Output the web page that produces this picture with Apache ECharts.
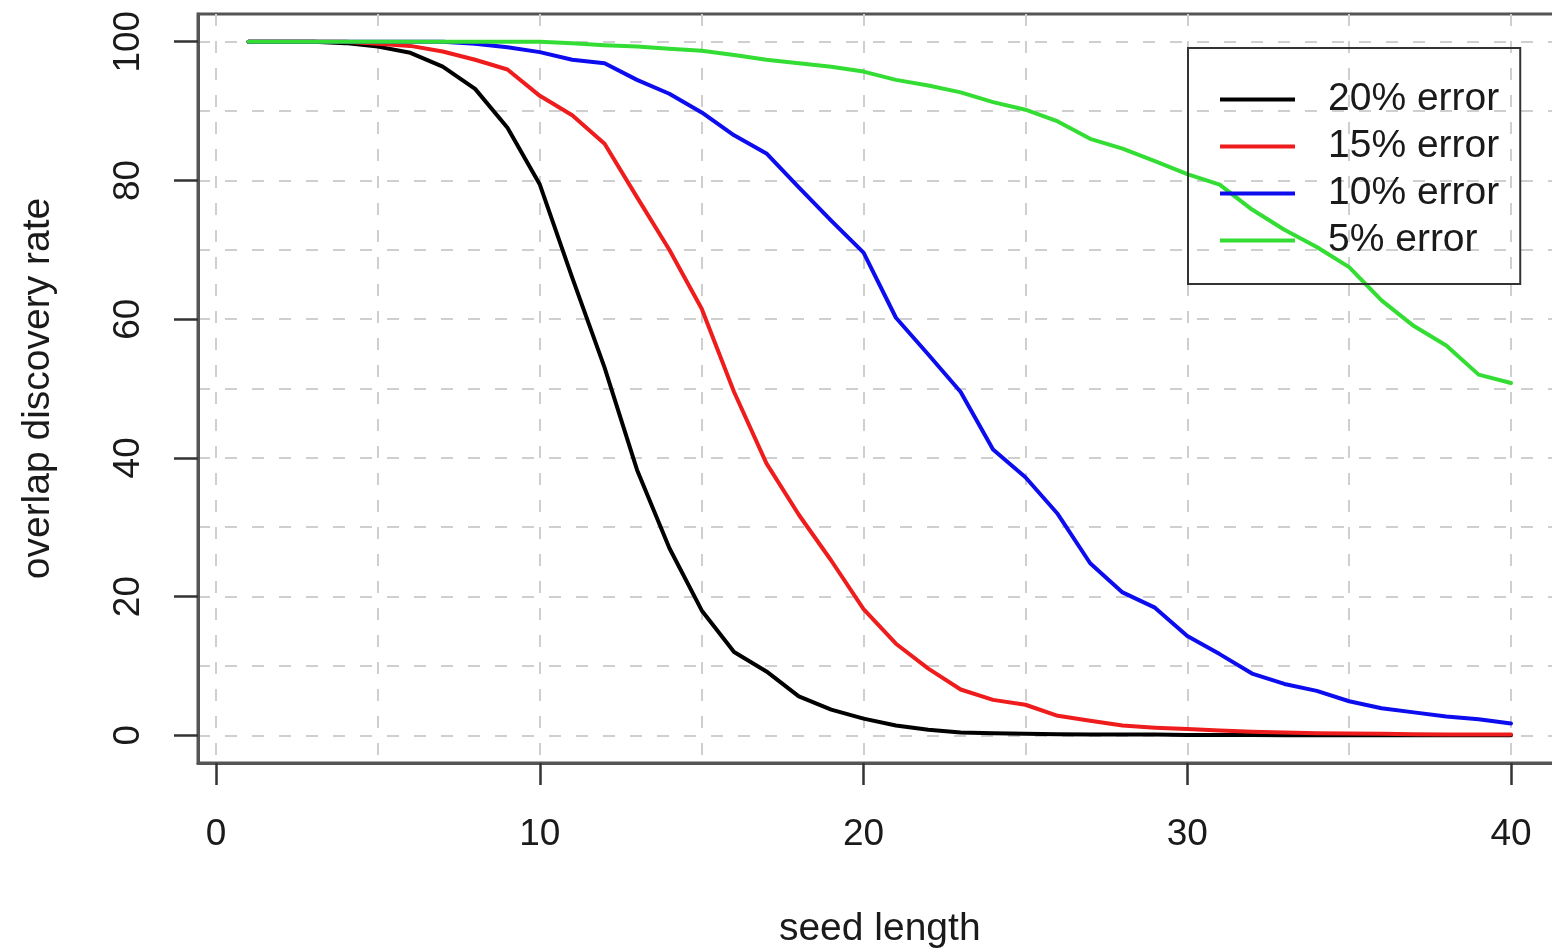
<!DOCTYPE html>
<html>
<head>
<meta charset="utf-8">
<script src="https://cdn.jsdelivr.net/npm/echarts@6/dist/echarts.min.js"></script>
<style>
  html, body { margin: 0; padding: 0; background: #fff; }
  #chart { width: 1552px; height: 950px; }
</style>
</head>
<body>
<div id="chart"></div>
<script>
// seed lengths on the x axis
const seed_length = [1, 2, 3, 4, 5, 6, 7, 8, 9, 10, 11, 12, 13, 14, 15, 16, 17, 18, 19, 20,
  21, 22, 23, 24, 25, 26, 27, 28, 29, 30, 31, 32, 33, 34, 35, 36, 37, 38, 39, 40];

// overlap discovery rate (%) per error level
const err_20 = [100, 100, 100, 99.8, 99.3, 98.4, 96.4, 93.2, 87.6, 79.4, 66, 53, 38.3, 27, 18, 12, 9.2, 5.6, 3.7, 2.4,
  1.4, 0.8, 0.4, 0.3, 0.2, 0.15, 0.1, 0.1, 0.1, 0.05, 0.05, 0.05, 0, 0, 0, 0, 0, 0, 0, 0];
const err_15 = [100, 100, 100, 100, 99.7, 99.4, 98.6, 97.4, 96, 92.2, 89.4, 85.3, 77.6, 70, 61.5, 49.5, 39.2, 31.8, 25.2, 18.2,
  13.2, 9.6, 6.6, 5.1, 4.4, 2.8, 2.1, 1.4, 1.1, 0.9, 0.7, 0.5, 0.4, 0.3, 0.25, 0.2, 0.15, 0.1, 0.1, 0.1];
const err_10 = [100, 100, 100, 100, 100, 100, 100, 99.7, 99.2, 98.5, 97.4, 96.9, 94.5, 92.5, 89.8, 86.5, 83.9, 79, 74.2, 69.6,
  60.2, 54.9, 49.5, 41.2, 37.2, 31.9, 24.8, 20.6, 18.4, 14.3, 11.7, 8.9, 7.4, 6.4, 4.9, 3.9, 3.3, 2.7, 2.3, 1.7];
const err_5 = [100, 100, 100, 100, 100, 100, 100, 100, 100, 100, 99.8, 99.5, 99.3, 99, 98.7, 98.1, 97.4, 96.9, 96.4, 95.7,
  94.5, 93.7, 92.7, 91.3, 90.2, 88.5, 86, 84.6, 82.8, 80.9, 79.4, 75.8, 72.9, 70.4, 67.5, 62.7, 59, 56.2, 52, 50.8];

const legends = ['20% error', '15% error', '10% error', '5% error'];
const colors = ['#000000', '#ee1c1c', '#0c0cee', '#33dd33'];

const x_ticks = [0, 10, 20, 30, 40];
const x_grid = [0, 5, 10, 15, 20, 25, 30, 35, 40];
const y_ticks = [0, 20, 40, 60, 80, 100];
const y_grid = [0, 10, 20, 30, 40, 50, 60, 70, 80, 90, 100];

const font = '"Liberation Sans", Helvetica, Arial, sans-serif';

const values = [err_20, err_15, err_10, err_5];

function series() {
  return values.map((vals, idx) => {
    return {
      name: legends[idx],
      type: 'line',
      xAxisIndex: 0,
      yAxisIndex: 0,
      symbol: 'none',
      smooth: false,
      color: colors[idx],
      lineStyle: { width: 4, color: colors[idx], join: 'round', cap: 'round' },
      emphasis: { disabled: true },
      data: seed_length.map((x, i) => [x, vals[i]])
    };
  });
}

const dashed = { color: '#cfcfcf', width: 2, type: [12, 15] };

const option = {
  animation: false,
  backgroundColor: '#fff',
  grid: {
    left: 198,
    top: 14,
    width: 1363.5,
    height: 749,
    show: true,
    borderColor: '#555',
    borderWidth: 3,
    backgroundColor: 'transparent',
    containLabel: false,
    outerBoundsMode: 'none'
  },
  legend: {
    data: legends,
    orient: 'vertical',
    left: 1188,
    top: 48,
    padding: [32, 21, 24, 32],
    itemGap: 8,
    itemWidth: 75,
    itemHeight: 4,
    icon: 'rect',
    borderColor: '#333',
    borderWidth: 2,
    selectedMode: false,
    textStyle: { fontSize: 39, lineHeight: 39, color: '#1a1a1a', fontFamily: font, padding: [0, 0, 0, 28] }
  },
  xAxis: [
    {
      type: 'value',
      min: -0.56,
      max: 41.56,
      position: 'bottom',
      name: 'seed length',
      nameLocation: 'middle',
      nameGap: 147,
      nameTextStyle: { fontSize: 39, color: '#1a1a1a', fontFamily: font },
      axisLine: { show: true, onZero: false, lineStyle: { color: '#555', width: 3 } },
      axisTick: { show: true, customValues: x_ticks, length: 22, lineStyle: { color: '#333', width: 2.5 } },
      axisLabel: { show: true, customValues: x_ticks, margin: 53, fontSize: 37, color: '#1a1a1a', fontFamily: font },
      splitLine: { show: false }
    },
    {
      type: 'value',
      min: -0.56,
      max: 41.56,
      position: 'top',
      axisLine: { show: false, onZero: false },
      axisTick: { show: false, customValues: x_grid },
      axisLabel: { show: false },
      splitLine: { show: true, lineStyle: dashed }
    }
  ],
  yAxis: [
    {
      type: 'value',
      min: -4,
      max: 104,
      position: 'left',
      name: 'overlap discovery rate',
      nameLocation: 'middle',
      nameGap: 140,
      nameTextStyle: { fontSize: 39, color: '#1a1a1a', fontFamily: font },
      axisLine: { show: true, onZero: false, lineStyle: { color: '#555', width: 3 } },
      axisTick: { show: true, customValues: y_ticks, length: 24, lineStyle: { color: '#333', width: 2.5 } },
      axisLabel: { show: true, customValues: y_ticks, rotate: 90, margin: 51, fontSize: 37, color: '#1a1a1a', fontFamily: font },
      splitLine: { show: false }
    },
    {
      type: 'value',
      min: -4,
      max: 104,
      position: 'right',
      axisLine: { show: false, onZero: false },
      axisTick: { show: false, customValues: y_grid },
      axisLabel: { show: false },
      splitLine: { show: true, lineStyle: dashed }
    }
  ],
  series: series()
};

const chart = echarts.init(document.getElementById('chart'));
chart.setOption(option);
</script>
</body>
</html>
